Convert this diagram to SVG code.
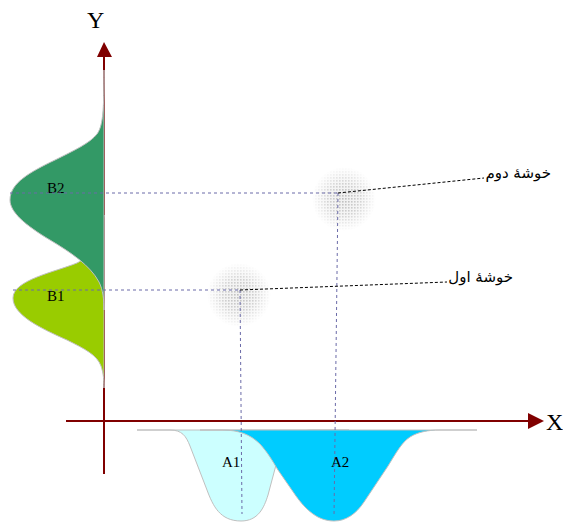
<svg xmlns="http://www.w3.org/2000/svg" width="563" height="522" viewBox="0 0 563 522">
<style>
.axis{stroke:#800000;stroke-width:2;fill:none}
.arrow{fill:#800000}
.curve{stroke:#c0c0c0;stroke-width:1}
.guide{stroke:#6a6aa8;stroke-width:1;stroke-dasharray:3,3;fill:none}
.leader{stroke:#000;stroke-width:1;stroke-dasharray:3,2;fill:none}
.lbl{font-family:"Liberation Serif",serif;font-size:15px;fill:#000}
.ax{font-family:"Liberation Serif",serif;font-size:24px;fill:#000}
.fa{font-family:"DejaVu Sans","Noto Sans",sans-serif;font-size:15px;fill:#000}
</style>
<defs>
<pattern id="dots" width="3" height="3" patternUnits="userSpaceOnUse">
<rect width="3" height="3" fill="#f0f0f0"/>
<rect width="1.6" height="1.6" fill="#bdbdbd"/>
</pattern>
<radialGradient id="fade">
<stop offset="0" stop-color="#fff" stop-opacity="1"/>
<stop offset="0.5" stop-color="#fff" stop-opacity="0.7"/>
<stop offset="1" stop-color="#fff" stop-opacity="0"/>
</radialGradient>
<mask id="blobMask" maskContentUnits="objectBoundingBox">
<circle cx="0.5" cy="0.5" r="0.5" fill="url(#fade)"/>
</mask>
</defs>

<g id="axes">
<line class="axis" x1="104" y1="56" x2="104" y2="474"/>
<polygon class="arrow" points="104,42 97,57 112,57"/>
<line class="axis" x1="66" y1="421" x2="529" y2="421"/>
<polygon class="arrow" points="544,421 528,413 528,429"/>
<text class="ax" x="87" y="28">Y</text>
<text class="ax" x="546" y="430">X</text>
</g>

<g id="B1">
<path class="curve" fill="#99cc00" d="M104,215 C100,245 90,256 77,263 C55,272 13,280 13,298 C13,315 40,328 67,340 C85,349 97,355 101,366 C103,372 104,378 104,388 Z"/>
<text class="lbl" x="47" y="301">B1</text>
</g>
<g id="B2">
<path class="curve" fill="#339966" d="M104,70 C104,110 103,126 97,134 C90,143 75,150 55,160 C30,172 10,183 10,200 C10,212 25,225 50,240 C70,252 90,265 99,282 C103,290 104,300 104,310 Z"/>
<text class="lbl" x="47" y="193">B2</text>
</g>

<g id="A1">
<path class="curve" fill="#ccffff" d="M137,430 L170,430 C182,430 186,436 190,446 L207,490 C213,506 220,521 241,521 C258,521 264,508 268,495 L276,465 C282,445 292,430 312,430 L349,430 Z"/>
</g>
<g id="A2">
<path class="curve" fill="#00ccff" d="M200,430 L222,430 C238,430 250,434 260,444 C268,453 272,460 278,470 L296,496 C306,510 318,521 334,521 C346,521 356,514 364,502 L388,466 C396,453 402,442 410,437 C418,432 428,430 440,430 L477,430 Z"/>
</g>

<g id="cluster1">
<circle cx="239" cy="295" r="32" fill="url(#dots)" mask="url(#blobMask)"/>
</g>
<g id="cluster2">
<circle cx="344" cy="199" r="32" fill="url(#dots)" mask="url(#blobMask)"/>
</g>

<g id="connectors">
<line class="guide" x1="10" y1="193" x2="338" y2="193"/>
<line class="guide" x1="13" y1="290" x2="240" y2="290"/>
<line class="guide" x1="338" y1="193" x2="334" y2="517"/>
<line class="guide" x1="240" y1="290" x2="242" y2="514"/>
<line class="leader" x1="338" y1="193" x2="484" y2="178"/>
<line class="leader" x1="240" y1="290" x2="447" y2="282"/>
</g>

<g id="labels">
<text class="lbl" x="222" y="467">A1</text>
<text class="lbl" x="331" y="467">A2</text>
<text class="fa" x="551" y="178" text-anchor="end">خوشهٔ دوم</text>
<text class="fa" x="513" y="282" text-anchor="end">خوشهٔ اول</text>
</g>
</svg>
